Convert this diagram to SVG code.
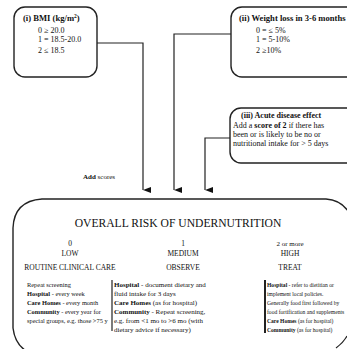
<svg xmlns="http://www.w3.org/2000/svg" width="347" height="349" viewBox="0 0 347 349">
<defs>
<marker id="ah" markerWidth="6" markerHeight="8" refX="3" refY="8" orient="auto" markerUnits="userSpaceOnUse" viewBox="0 0 6 8">
<path d="M0,0 L6,0 L3,8 Z" fill="#111"/>
</marker>
<style>
.box{fill:#fff;stroke:#222;stroke-width:1.4}
.ln{fill:none;stroke:#222;stroke-width:1.2}
text{font-family:"Liberation Serif","Times New Roman",serif;fill:#111}
.h{font-size:8.6px;font-weight:bold}
.v{font-size:8px}
.t{font-size:7px}
.t1{font-size:6.4px}
.b{font-weight:bold}
.c{text-anchor:middle}
.title{font-size:11.6px}
.lab{font-size:7.5px}
</style>
</defs>
<rect width="347" height="349" fill="#fff"/>
<g id="connectors">
<path class="ln" d="M97,43 H143 V190" marker-end="url(#ah)"/>
<path class="ln" d="M231,34 H174 V190" marker-end="url(#ah)"/>
<path class="ln" d="M230,138 H205 V190" marker-end="url(#ah)"/>
<text x="83" y="179" class="t"><tspan class="b">Add</tspan> scores</text>
</g>
<g id="bmi">
<rect class="box" x="14" y="7" width="83" height="70" rx="11"/>
<text x="23" y="21" class="h">(i)  BMI (kg/m<tspan font-size="5.5" dy="-3.5">2</tspan><tspan dy="3.5">)</tspan></text>
<text x="38" y="33" class="v">0 ≥ 20.0</text>
<text x="38" y="41.5" class="v">1 = 18.5-20.0</text>
<text x="38" y="52.5" class="v">2 ≤ 18.5</text>
</g>
<g id="weight">
<rect class="box" x="231" y="7" width="130" height="70" rx="11"/>
<text x="239" y="21" class="h">(ii)  Weight loss in 3-6 months</text>
<text x="256" y="33" class="v">0 = ≤ 5%</text>
<text x="256" y="41.5" class="v">1 = 5-10%</text>
<text x="256" y="52.5" class="v">2 ≥10%</text>
</g>
<g id="acute">
<rect class="box" x="230" y="108" width="130" height="55" rx="11"/>
<text x="241" y="118" class="h" style="font-size:8px">(iii)  Acute disease effect</text>
<text x="233" y="128" class="v">Add a <tspan class="b">score of 2</tspan> if there has</text>
<text x="233" y="137" class="v">been or is likely to be no or</text>
<text x="233" y="146" class="v">nutritional intake for &gt; 5 days</text>
</g>
<g id="overall">
<path class="ln" style="stroke-width:1.4" d="M13,228 Q14,201 42,199 H326 Q342,200 350,214"/>
<path class="ln" style="stroke-width:1.4" d="M13,228 V328 Q15,345 28,352"/>
<path class="ln" d="M336,348 Q343,343 347,336"/>
<text x="178" y="227" class="title c">OVERALL RISK OF UNDERNUTRITION</text>
<text x="70" y="246" class="lab c">0</text>
<text x="70" y="256" class="lab c">LOW</text>
<text x="70" y="270" class="lab c">ROUTINE CLINICAL CARE</text>
<text x="183" y="246" class="lab c">1</text>
<text x="183" y="256" class="lab c">MEDIUM</text>
<text x="183" y="270" class="lab c">OBSERVE</text>
<text x="290" y="246" class="t c">2 or more</text>
<text x="290" y="256" class="lab c">HIGH</text>
<text x="290" y="270" class="lab c">TREAT</text>
<text class="t1" x="27" y="287">Repeat screening</text>
<text class="t1" x="27" y="296"><tspan class="b">Hospital</tspan> - every week</text>
<text class="t1" x="27" y="305"><tspan class="b">Care Homes</tspan> - every month</text>
<text class="t1" x="27" y="314"><tspan class="b">Community</tspan> - every year for</text>
<text class="t1" x="27" y="323">special groups, e.g. those &gt;75 y</text>
<path class="ln" d="M112,280 V331"/>
<text class="t" x="114" y="287"><tspan class="b">Hospital</tspan> - document dietary and</text>
<text class="t" x="114" y="296">fluid intake for 3 days</text>
<text class="t" x="114" y="305"><tspan class="b">Care Homes</tspan> (as for hospital)</text>
<text class="t" x="114" y="314"><tspan class="b">Community</tspan> - Repeat screening,</text>
<text class="t" x="114" y="323">e.g. from &lt;1 mo to &gt;6 mo (with</text>
<text class="t" x="114" y="332">dietary advice if necessary)</text>
<path class="ln" style="stroke-width:2" d="M265,280 V333"/>
<g transform="translate(267,0) scale(0.8,1)">
<text class="t" x="0" y="287"><tspan class="b">Hospital</tspan> - refer to dietitian or</text>
<text class="t" x="0" y="296">implement local policies.</text>
<text class="t" x="0" y="305">Generally food first followed by</text>
<text class="t" x="0" y="314">food fortification and supplements</text>
<text class="t" x="0" y="323"><tspan class="b">Care Homes</tspan> (as for hospital)</text>
<text class="t" x="0" y="332"><tspan class="b">Community</tspan> (as for hospital)</text>
</g>
</g>
</svg>
